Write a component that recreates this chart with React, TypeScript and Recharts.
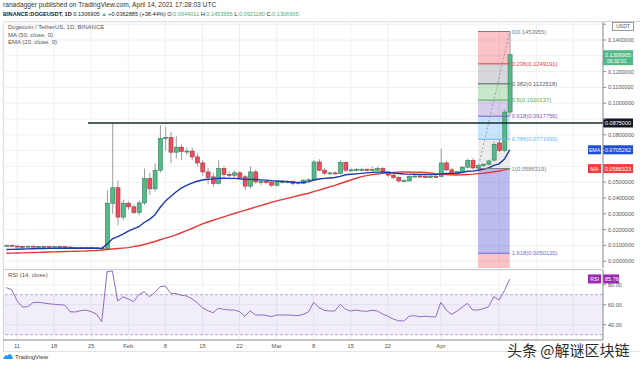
import React from "react";
import {
  ComposedChart,
  Bar,
  Line,
  XAxis,
  YAxis,
  CartesianGrid,
  ReferenceLine,
  ReferenceArea,
} from "recharts";

// daily candles, index 0 = Jan 9 2021 ... 95 = Apr 14 2021
const opens = [
  0.0098, 0.0101, 0.0096, 0.0094, 0.0092, 0.0095, 0.0093, 0.0094, 0.0093, 0.0092,
  0.0093, 0.0092, 0.009, 0.0084, 0.0087, 0.0086, 0.0087, 0.0085, 0.0083, 0.0078,
  0.0367, 0.0465, 0.0279, 0.0367, 0.0344, 0.0308, 0.0369, 0.0523, 0.0458, 0.0576,
  0.0777, 0.0783, 0.069, 0.0722, 0.0695, 0.0697, 0.066, 0.0622, 0.0565, 0.0534,
  0.0492, 0.0587, 0.055, 0.0544, 0.0559, 0.0534, 0.0475, 0.0565, 0.0502, 0.0504,
  0.0501, 0.0481, 0.0502, 0.0504, 0.0506, 0.0492, 0.0492, 0.0513, 0.0515, 0.0628,
  0.0576, 0.0557, 0.0559, 0.0556, 0.0625, 0.0576, 0.0578, 0.058, 0.0581, 0.0577,
  0.0576, 0.0587, 0.0565, 0.0545, 0.053, 0.0508, 0.0508, 0.0537, 0.0539, 0.0537,
  0.0535, 0.0537, 0.0536, 0.0622, 0.0578, 0.0555, 0.0567, 0.0595, 0.0638, 0.059,
  0.0606, 0.0614, 0.064, 0.0748, 0.0702, 0.0944011,
];
const highs = [
  0.0103, 0.0104, 0.0098, 0.0097, 0.0096, 0.0097, 0.0096, 0.0095, 0.0095, 0.0094,
  0.0095, 0.0094, 0.0091, 0.0088, 0.0089, 0.0088, 0.0088, 0.0087, 0.0084, 0.045,
  0.0873, 0.0512, 0.039, 0.038, 0.0358, 0.0385, 0.0587, 0.056, 0.062, 0.086,
  0.085, 0.0818, 0.079, 0.074, 0.072, 0.072, 0.068, 0.064, 0.059, 0.056,
  0.064, 0.06, 0.057, 0.0575, 0.057, 0.0545, 0.06, 0.058, 0.0515, 0.0515,
  0.0508, 0.051, 0.0512, 0.0514, 0.051, 0.0502, 0.0518, 0.0525, 0.064, 0.0645,
  0.059, 0.0565, 0.0568, 0.064, 0.0632, 0.0588, 0.059, 0.0592, 0.0588, 0.06,
  0.06, 0.0595, 0.0572, 0.0552, 0.0538, 0.0518, 0.0545, 0.0545, 0.0546, 0.0544,
  0.0542, 0.0545, 0.0713, 0.0635, 0.059, 0.0572, 0.0602, 0.065, 0.0652, 0.0612,
  0.062, 0.0642, 0.0755, 0.077, 0.096, 0.1453955,
];
const lows = [
  0.0093, 0.0093, 0.008, 0.0088, 0.0089, 0.0091, 0.009, 0.0091, 0.009, 0.0089,
  0.0091, 0.0088, 0.008, 0.0082, 0.0085, 0.0084, 0.0083, 0.0081, 0.0074, 0.0075,
  0.03, 0.0228, 0.026, 0.0325, 0.03, 0.029, 0.0355, 0.042, 0.044, 0.056,
  0.07, 0.062, 0.065, 0.064, 0.067, 0.064, 0.06, 0.054, 0.049, 0.047,
  0.0485, 0.053, 0.053, 0.053, 0.052, 0.045, 0.046, 0.049, 0.048, 0.049,
  0.047, 0.047, 0.049, 0.0492, 0.048, 0.0485, 0.0488, 0.0505, 0.051, 0.057,
  0.0545, 0.0545, 0.0548, 0.055, 0.0565, 0.0565, 0.057, 0.057, 0.0568, 0.057,
  0.057, 0.0558, 0.0535, 0.052, 0.0495, 0.0498, 0.0505, 0.0528, 0.053, 0.0528,
  0.0526, 0.0528, 0.053, 0.057, 0.0545, 0.0548, 0.056, 0.0588, 0.058, 0.0586,
  0.0596, 0.0605, 0.063, 0.069, 0.069, 0.092118,
];
const closes = [
  0.0101, 0.0096, 0.0094, 0.0092, 0.0095, 0.0093, 0.0094, 0.0093, 0.0092, 0.0093,
  0.0092, 0.009, 0.0084, 0.0087, 0.0086, 0.0087, 0.0085, 0.0083, 0.0078, 0.0367,
  0.0465, 0.0279, 0.0367, 0.0344, 0.0308, 0.0369, 0.0523, 0.0458, 0.0576, 0.0777,
  0.0783, 0.069, 0.0722, 0.0695, 0.0697, 0.066, 0.0622, 0.0565, 0.053, 0.0492,
  0.0587, 0.055, 0.0544, 0.0559, 0.053, 0.0475, 0.0565, 0.0502, 0.0504, 0.0501,
  0.0481, 0.0502, 0.0504, 0.0506, 0.0492, 0.0497, 0.0513, 0.0515, 0.0628, 0.0576,
  0.0557, 0.0559, 0.0556, 0.0625, 0.0576, 0.0578, 0.058, 0.0581, 0.0577, 0.058,
  0.0587, 0.0565, 0.0545, 0.053, 0.0508, 0.051, 0.0537, 0.0539, 0.0537, 0.0535,
  0.0537, 0.0536, 0.0622, 0.0578, 0.0555, 0.0567, 0.0595, 0.0638, 0.059, 0.0606,
  0.0614, 0.0635, 0.074, 0.0702, 0.0944, 0.1306905,
];
const ma50 = [
  0.005, 0.0051, 0.0052, 0.0053, 0.0054, 0.0055, 0.0056, 0.0057, 0.0058, 0.0059,
  0.006, 0.0061, 0.0062, 0.0063, 0.0064, 0.0065, 0.0067, 0.0068, 0.007, 0.0074,
  0.0077, 0.008, 0.0083, 0.0086, 0.0092, 0.0098, 0.0106, 0.0115, 0.0125, 0.0136,
  0.0146, 0.0156, 0.0167, 0.018, 0.0193, 0.0207, 0.0222, 0.0236, 0.0248, 0.0259,
  0.027, 0.0281, 0.0292, 0.0302, 0.0312, 0.0322, 0.0332, 0.0342, 0.0352, 0.0362,
  0.0372, 0.0382, 0.039, 0.0398, 0.0406, 0.0414, 0.0422, 0.043, 0.044, 0.045,
  0.046, 0.047, 0.048, 0.0492, 0.0503, 0.0514, 0.0525, 0.0535, 0.0542, 0.0548,
  0.0552, 0.0556, 0.0559, 0.0562, 0.0564, 0.0565, 0.0565, 0.0564, 0.0563, 0.0561,
  0.0558, 0.0554, 0.0551, 0.0548, 0.0547, 0.0546, 0.0547, 0.0549, 0.0551, 0.0554,
  0.0557, 0.0561, 0.0566, 0.0571, 0.0578, 0.0586323,
];
const ema20 = [
  0.0074, 0.0075, 0.0076, 0.0077, 0.0078, 0.0079, 0.008, 0.008, 0.0081, 0.0081,
  0.0082, 0.0082, 0.0082, 0.0082, 0.0082, 0.0082, 0.0082, 0.0082, 0.0081, 0.0108,
  0.0142, 0.0155, 0.0172, 0.019, 0.0204, 0.0218, 0.0245, 0.0265, 0.0292, 0.034,
  0.038, 0.041, 0.0438, 0.0462, 0.048, 0.0494, 0.0506, 0.0514, 0.0519, 0.0521,
  0.0524, 0.0525, 0.0524, 0.0524, 0.0522, 0.0518, 0.0518, 0.0517, 0.0515, 0.0513,
  0.051, 0.0508, 0.0506, 0.0504, 0.05, 0.0499, 0.05, 0.0502, 0.0514, 0.052,
  0.0524, 0.0527, 0.053, 0.0537, 0.0547, 0.055, 0.0553, 0.0556, 0.0559, 0.0562,
  0.0564, 0.0564, 0.0561, 0.0558, 0.0555, 0.0552, 0.0551, 0.055, 0.0549, 0.0549,
  0.0548, 0.0548, 0.0553, 0.0555, 0.0556, 0.0557, 0.0561, 0.0569, 0.057, 0.0576,
  0.0582, 0.059, 0.0607, 0.0616, 0.0647, 0.0705262,
];
const rsi14 = [
  77, 75, 64, 57.7, 58, 62, 62.4, 61.7, 61, 60.4,
  60, 59.7, 53, 52.7, 54, 54.7, 53, 50.7, 43, 93,
  93.7, 63.7, 68, 65.7, 63, 70, 73, 68, 72, 78,
  78.7, 71.4, 71, 69.4, 68.7, 66, 62, 57, 54, 52,
  56.4, 55.4, 54.7, 54.7, 53, 48.4, 54, 49.7, 49.7, 49.4,
  48, 49.7, 49.7, 49.7, 49.4, 49, 50.4, 52.7, 62.4, 57,
  54.4, 53.7, 53.7, 60.4, 55.4, 53.7, 54.7, 53.7, 53.4, 54.4,
  53.7, 50.7, 48.4, 45.7, 44, 43.7, 48.4, 49, 48, 48.4,
  48, 47.7, 62.4, 54.7, 50.4, 53.4, 57.4, 61.4, 54.7, 54.7,
  56, 58, 68, 64.7, 74, 85.76,
];

const priceTicks = [0, 0.01, 0.02, 0.03, 0.04, 0.05, 0.06, 0.07, 0.08, 0.09, 0.1, 0.11, 0.12, 0.13, 0.14, 0.15];
// ticks whose labels sit under a price tag on the axis
const coveredTicks = [0.06, 0.07, 0.09, 0.13, 0.15];
const rsiTicks = [40, 60, 80];
const dayTicks = [2, 9, 16, 23, 30, 37, 44, 51, 58, 65, 72, 82, 93, 100, 107];
const dayLabels = ["11", "18", "25", "Feb", "8", "15", "22", "Mar", "8", "15", "22", "Apr", "", "", ""];

const fibRatios = ["0", "0.236", "0.382", "0.5", "0.618", "0.786", "1", "1.618"];
const fibPrices = [0.1453955, 0.1249191, 0.1122518, 0.1020137, 0.0917756, 0.0771993, 0.0586319, 0.005012];
const fibLineColors = ["#787b86", "#f23645", "#555a66", "#4caf50", "#7e57c2", "#64b5f6", "#787b86", "#6b6bd9"];
const fibZoneColors = ["#f23645", "#787b86", "#4caf50", "#7e57c2", "#64b5f6", "#9e9e9e", "#3f3fd1", "#f23645"];
const fibZoneOpacity = [0.3, 0.3, 0.3, 0.3, 0.35, 0.2, 0.35, 0.3];
const fibStart = 89;
const fibEnd = 95;

const resistance = 0.0875;
const lastPrice = 0.1306905;
const lastEma = 0.0705262;
const lastMa = 0.0586323;
const lastRsi = 85.76;

const X_DOMAIN: [number, number] = [-0.64, 112.6];
const P_DOMAIN: [number, number] = [-0.0043, 0.1514];
const FONT = "'Liberation Sans', Arial, sans-serif";

const candles = opens.map((o, i) => ({
  i,
  o,
  c: closes[i],
  range: [lows[i], highs[i]],
  ma: ma50[i],
  ema: ema20[i],
}));
const rsiData = rsi14.map((v, i) => ({ i, rsi: v }));

function Candle(props: any) {
  const { x, y, width, height, payload } = props;
  if (!payload) return null;
  const [lo, hi] = payload.range;
  const top = Math.min(y, y + height);
  const h = Math.abs(height);
  const px = (v: number) => top + ((hi - v) / (hi - lo || 1)) * h;
  const cx = x + width / 2;
  const up = payload.c >= payload.o;
  const bTop = px(Math.max(payload.o, payload.c));
  const bBot = px(Math.min(payload.o, payload.c));
  return (
    <g>
      <line x1={cx} x2={cx} y1={top} y2={top + h} stroke="#9a9ca3" strokeWidth={1} />
      <rect
        x={cx - 2}
        y={bTop}
        width={4}
        height={Math.max(1, bBot - bTop)}
        fill={up ? "#53b987" : "#eb4d5c"}
        stroke={up ? "#2f7d57" : "#a8323d"}
        strokeWidth={0.6}
      />
    </g>
  );
}

function Tag(props: any) {
  const { viewBox, text, sub, bg, name, w = 30 } = props;
  if (!viewBox) return null;
  const x = viewBox.x + viewBox.width;
  const y = viewBox.y;
  return (
    <g fontFamily={FONT}>
      {name && (
        <g>
          <rect x={x - 15} y={y - 4.5} width={13} height={9} fill={bg} />
          <text x={x - 8.5} y={y + 2} textAnchor="middle" fontSize={5.2} fill="#fff">
            {name}
          </text>
        </g>
      )}
      <rect x={x} y={y - 4.5} width={w} height={sub ? 15 : 9} fill={bg} />
      <text x={x + 2} y={y + 2} fontSize={5.5} fill="#fff">
        {text}
      </text>
      {sub && (
        <text x={x + 4} y={y + 8.5} fontSize={5} fill="#fff">
          {sub}
        </text>
      )}
    </g>
  );
}

const axisTick = { fontSize: 5.5, fill: "#555", fontFamily: FONT };

function Header() {
  const g = { color: "#4caf7d" };
  return (
    <div style={{ position: "absolute", left: 3, top: 1, fontFamily: FONT, color: "#333", whiteSpace: "nowrap" }}>
      <div style={{ fontSize: 6.65, lineHeight: "8.5px" }}>ranadagger published on TradingView.com, April 14, 2021 17:28:03 UTC</div>
      <div style={{ fontSize: 5.6, lineHeight: "8.5px", color: "#222" }}>
        <b>BINANCE:DOGEUSDT, 1D</b> 0.1306905 <span style={g}>▲</span> +0.0362885 (+38.44%) O:<span style={g}>0.0944011</span> H:
        <span style={g}>0.1453955</span> L:<span style={g}>0.0921180</span> C:<span style={g}>0.1306905</span>
      </div>
    </div>
  );
}

export default function App() {
  return (
    <div style={{ position: "absolute", left: 0, top: 0, width: 640, height: 369, background: "#fff", overflow: "hidden" }}>
      <Header />
      <div style={{ position: "absolute", left: 3, top: 21, width: 637, height: 1, background: "#d0d3da" }} />
      <div style={{ position: "absolute", left: 3, top: 21, width: 1, height: 330, background: "#d0d3da" }} />
      <div style={{ position: "absolute", left: 3, top: 351, width: 637, height: 1, background: "#e0e3ea" }} />

      <div style={{ position: "absolute", left: 0, top: 0 }}>
        <ComposedChart width={640} height={268} data={candles} margin={{ top: 22, right: 0, bottom: 0, left: 3 }}>
          <CartesianGrid stroke="#eef0f4" strokeWidth={1} />
          <XAxis type="number" dataKey="i" domain={X_DOMAIN} ticks={dayTicks} allowDataOverflow hide />
          <YAxis
            orientation="right"
            width={37}
            domain={P_DOMAIN}
            allowDataOverflow
            ticks={priceTicks}
            interval={0}
            tickFormatter={(v: number) => (coveredTicks.includes(v) ? "" : v.toFixed(7))}
            tick={axisTick}
            tickSize={3}
            axisLine={{ stroke: "#8c8f96" }}
            tickLine={{ stroke: "#8c8f96" }}
          />
          <Line dataKey="ma" stroke="#e53935" strokeWidth={1.4} dot={false} isAnimationActive={false} />
          <Line dataKey="ema" stroke="#1c3aa9" strokeWidth={1.4} dot={false} isAnimationActive={false} />
          <Bar dataKey="range" barSize={4} shape={<Candle />} isAnimationActive={false} />
          {fibPrices.map((p, k) => (
            <ReferenceArea
              key={"z" + k}
              x1={fibStart}
              x2={fibEnd}
              y1={p}
              y2={k < fibPrices.length - 1 ? fibPrices[k + 1] : P_DOMAIN[0]}
              fill={fibZoneColors[k]}
              fillOpacity={fibZoneOpacity[k]}
              stroke="none"
            />
          ))}
          {fibPrices.map((p, k) => (
            <ReferenceLine
              key={"f" + k}
              segment={[
                { x: fibStart, y: p },
                { x: fibEnd, y: p },
              ]}
              stroke={fibLineColors[k]}
              strokeWidth={1}
              label={{
                value: `${fibRatios[k]}(${p.toFixed(7)})`,
                position: "right",
                offset: 2,
                fill: fibLineColors[k],
                fontSize: 5.8,
                fontFamily: FONT,
              }}
            />
          ))}
          <ReferenceLine
            segment={[
              { x: fibStart, y: fibPrices[6] },
              { x: fibEnd, y: fibPrices[0] },
            ]}
            stroke="#8a8d95"
            strokeDasharray="2 2"
            strokeWidth={0.8}
          />
          <ReferenceLine
            segment={[
              { x: 15.4, y: resistance },
              { x: X_DOMAIN[1], y: resistance },
            ]}
            stroke="#132a2a"
            strokeWidth={1.6}
          />
          <ReferenceLine y={lastPrice} stroke="transparent" label={(p: any) => <Tag {...p} text="0.1306905" sub="06:32:01" bg="#53b987" />} />
          <ReferenceLine y={resistance} stroke="transparent" label={(p: any) => <Tag {...p} text="0.0875000" bg="#131722" />} />
          <ReferenceLine y={lastEma} stroke="transparent" label={(p: any) => <Tag {...p} text="0.0705262" name="EMA" bg="#1f4fd1" />} />
          <ReferenceLine y={lastMa} stroke="transparent" label={(p: any) => <Tag {...p} text="0.0586323" name="MA" bg="#f03e3e" />} />
        </ComposedChart>
      </div>

      {/* legend */}
      <div style={{ position: "absolute", left: 8, top: 24, fontFamily: FONT, fontSize: 6, color: "#555", lineHeight: "7.5px" }}>
        <div>Dogecoin / TetherUS, 1D, BINANCE</div>
        <div>MA (50, close, 0)</div>
        <div>EMA (20, close, 0)</div>
      </div>
      <div style={{ position: "absolute", left: 612, top: 22, width: 20, height: 7, border: "0.5px solid #999", fontFamily: FONT, fontSize: 5, color: "#555", textAlign: "center", lineHeight: "7px", background: "#fff" }}>
        USDT
      </div>

      <div style={{ position: "absolute", left: 3, top: 268.5, width: 600, height: 1, background: "#c9ccd3" }} />

      <div style={{ position: "absolute", left: 0, top: 270 }}>
        <ComposedChart width={640} height={82} data={rsiData} margin={{ top: 0, right: 0, bottom: 0, left: 3 }}>
          <CartesianGrid stroke="#eef0f4" strokeWidth={1} />
          <XAxis
            type="number"
            dataKey="i"
            domain={X_DOMAIN}
            ticks={dayTicks}
            interval={0}
            allowDataOverflow
            height={12}
            tickFormatter={(v: number) => dayLabels[dayTicks.indexOf(v)] ?? ""}
            tick={{ fontSize: 5.8, fill: "#555", fontFamily: FONT }}
            tickSize={2}
            axisLine={{ stroke: "#8c8f96" }}
            tickLine={false}
          />
          <YAxis
            orientation="right"
            width={37}
            domain={[24.7, 94.7]}
            allowDataOverflow
            ticks={rsiTicks}
            interval={0}
            tickFormatter={(v: number) => v.toFixed(2)}
            tick={axisTick}
            tickSize={3}
            axisLine={{ stroke: "#8c8f96" }}
            tickLine={{ stroke: "#8c8f96" }}
          />
          <ReferenceArea y1={30} y2={70} fill="#7e57c2" fillOpacity={0.1} stroke="none" />
          <ReferenceLine y={70} stroke="#b9a6dd" strokeDasharray="3 2" />
          <ReferenceLine y={30} stroke="#b9a6dd" strokeDasharray="3 2" />
          <Line dataKey="rsi" stroke="#8e6cc8" strokeWidth={1} dot={false} isAnimationActive={false} />
          <ReferenceLine y={lastRsi} stroke="transparent" label={(p: any) => <Tag {...p} text="85.76" name="RSI" bg="#9c27b0" w={16} />} />
        </ComposedChart>
      </div>
      <div style={{ position: "absolute", left: 8, top: 272, fontFamily: FONT, fontSize: 6, color: "#555" }}>RSI (14, close)</div>

      <div style={{ position: "absolute", left: 3, top: 353, fontFamily: FONT, fontSize: 6, color: "#333", display: "flex", alignItems: "center", gap: 2 }}>
        <svg width={10} height={7} viewBox="0 0 10 7">
          <path d="M1 6 C0 6 0 4 1.5 4 C1.5 2 4 1.5 4.5 3 C5 0.5 9 0.5 9 3.5 C10 3.5 10 6 9 6 Z" fill="#2196f3" />
        </svg>
        <span>TradingView</span>
      </div>

      <div
        style={{
          position: "absolute",
          left: 507,
          top: 339,
          fontFamily: "'Noto Sans CJK SC', sans-serif",
          fontSize: 15,
          color: "#2b2b2b",
          whiteSpace: "nowrap",
          textShadow: "0 0 2px #fff, 0 0 2px #fff",
        }}
      >
        头条 @解谜区块链
      </div>
    </div>
  );
}
